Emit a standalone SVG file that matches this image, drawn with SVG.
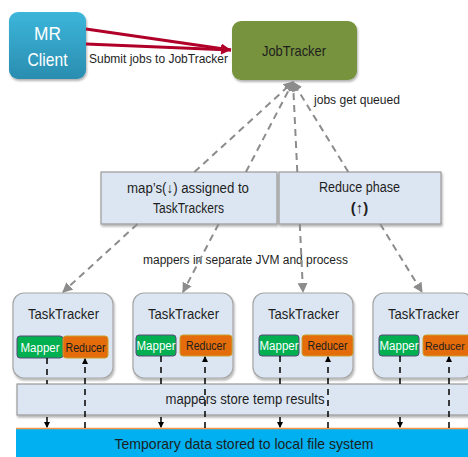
<svg xmlns="http://www.w3.org/2000/svg" width="468" height="457" viewBox="0 0 468 457">
<defs>
<linearGradient id="gClient" x1="0" y1="0" x2="0" y2="1"><stop offset="0" stop-color="#3cb6da"/><stop offset="1" stop-color="#2a8db0"/></linearGradient>
<filter id="sh" x="-10%" y="-10%" width="130%" height="140%"><feDropShadow dx="1" dy="2" stdDeviation="1.2" flood-color="#000" flood-opacity="0.3"/></filter>
<marker id="aGray" markerUnits="userSpaceOnUse" markerWidth="12" markerHeight="12" refX="9" refY="5" orient="auto-start-reverse"><path d="M0,0 L10,5 L0,10 z" fill="#8c8c8c"/></marker>
<marker id="aRed" markerUnits="userSpaceOnUse" markerWidth="12" markerHeight="12" refX="10" refY="5" orient="auto"><path d="M0,0 L10,5 L0,10 z" fill="#b0002a"/></marker>
<marker id="aBlk" markerUnits="userSpaceOnUse" markerWidth="8" markerHeight="8" refX="5" refY="3" orient="auto"><path d="M0,0 L6,3 L0,6 z" fill="#000"/></marker>
<style>
text{font-family:"Liberation Sans",Arial,sans-serif;fill:#1e1e1e}
.box{fill:#dce6f2;stroke:#9a9a9a;stroke-width:1.2}
.tt{fill:#dce6f2;stroke:#a6a6a6;stroke-width:1.2}
.map{fill:#00b050;stroke:#5a4a78;stroke-width:1}
.red{fill:#e46c0a;stroke:#c8a030;stroke-width:1}
.t15{font-size:15px}
.t14{font-size:14px}
.t13{font-size:13px}
.t12{font-size:12.5px}
.t11{font-size:12px}
.gd{stroke:#8c8c8c;stroke-width:2;stroke-dasharray:7 5;fill:none}
.bd{stroke:#000;stroke-width:1.5;stroke-dasharray:6 5;fill:none}
.rd{stroke:#b0002a;stroke-width:3;fill:none}
</style>
</defs>
<rect width="468" height="457" fill="#fff"/>

<g id="temp-data">
<rect x="16" y="428" width="460" height="40" fill="#00b0f0"/>
<line x1="16" y1="428.5" x2="468" y2="428.5" stroke="#f79646" stroke-width="1.5"/>
<text x="244" y="449" text-anchor="middle" class="t15" textLength="259" lengthAdjust="spacingAndGlyphs">Temporary data stored to local file system</text>
</g>

<g id="temp-results">
<rect x="17" y="384" width="460" height="31" class="box" filter="url(#sh)"/>
<text x="245" y="404" text-anchor="middle" class="t14" textLength="159" lengthAdjust="spacingAndGlyphs">mappers store temp results</text>
</g>

<g id="mr-client">
<rect x="9" y="12" width="77" height="67" rx="9" fill="url(#gClient)" filter="url(#sh)"/>
<text x="47.5" y="40" text-anchor="middle" font-size="19" style="fill:#fff" textLength="27" lengthAdjust="spacingAndGlyphs">MR</text>
<text x="47.5" y="66" text-anchor="middle" font-size="19" style="fill:#fff" textLength="40" lengthAdjust="spacingAndGlyphs">Client</text>
</g>

<g id="jobtracker">
<rect x="232" y="21" width="125" height="59" rx="9" fill="#77933c" filter="url(#sh)"/>
<text x="294" y="56" text-anchor="middle" class="t15" textLength="64" lengthAdjust="spacingAndGlyphs">JobTracker</text>
</g>

<g id="maps-assigned">
<rect x="101" y="172" width="176" height="52" class="box" filter="url(#sh)"/>
<text x="188" y="193" text-anchor="middle" class="t14" textLength="122" lengthAdjust="spacingAndGlyphs">map’s(↓) assigned to</text>
<text x="188.5" y="213" text-anchor="middle" class="t14" textLength="71" lengthAdjust="spacingAndGlyphs">TaskTrackers</text>
</g>

<g id="reduce-phase">
<rect x="279" y="172" width="162" height="52" class="box" filter="url(#sh)"/>
<text x="359.5" y="192" text-anchor="middle" class="t14" textLength="81" lengthAdjust="spacingAndGlyphs">Reduce phase</text>
<text x="359.5" y="213" text-anchor="middle" class="t15" font-weight="bold">(↑)</text>
</g>

<g id="tasktracker-1">
<rect x="13" y="293" width="100" height="85" rx="11" class="tt" filter="url(#sh)"/>
<text x="63.5" y="319" text-anchor="middle" class="t15" textLength="71" lengthAdjust="spacingAndGlyphs">TaskTracker</text>
<rect x="17" y="336" width="46" height="22" rx="3" class="map"/>
<text x="40" y="352" text-anchor="middle" class="t11" style="fill:#fff" textLength="39" lengthAdjust="spacingAndGlyphs">Mapper</text>
<rect x="63" y="336" width="45" height="22" rx="3" class="red"/>
<text x="85.5" y="352" text-anchor="middle" class="t11" textLength="40" lengthAdjust="spacingAndGlyphs">Reducer</text>
</g>

<g id="tasktracker-2">
<rect x="133" y="293" width="100" height="85" rx="11" class="tt" filter="url(#sh)"/>
<text x="183.5" y="319" text-anchor="middle" class="t15" textLength="71" lengthAdjust="spacingAndGlyphs">TaskTracker</text>
<rect x="136" y="335" width="40" height="21" rx="3" class="map"/>
<text x="156" y="350" text-anchor="middle" class="t11" style="fill:#fff" textLength="39" lengthAdjust="spacingAndGlyphs">Mapper</text>
<rect x="180" y="335" width="52" height="21" rx="3" class="red"/>
<text x="206" y="350" text-anchor="middle" class="t11" textLength="40" lengthAdjust="spacingAndGlyphs">Reducer</text>
</g>

<g id="tasktracker-3">
<rect x="253" y="293" width="100" height="85" rx="11" class="tt" filter="url(#sh)"/>
<text x="303.5" y="319" text-anchor="middle" class="t15" textLength="71" lengthAdjust="spacingAndGlyphs">TaskTracker</text>
<rect x="259" y="335" width="40" height="21" rx="3" class="map"/>
<text x="279" y="350" text-anchor="middle" class="t11" style="fill:#fff" textLength="39" lengthAdjust="spacingAndGlyphs">Mapper</text>
<rect x="302" y="335" width="51" height="21" rx="3" class="red"/>
<text x="327.5" y="350" text-anchor="middle" class="t11" textLength="40" lengthAdjust="spacingAndGlyphs">Reducer</text>
</g>

<g id="tasktracker-4">
<rect x="373" y="293" width="100" height="85" rx="11" class="tt" filter="url(#sh)"/>
<text x="423.5" y="319" text-anchor="middle" class="t15" textLength="71" lengthAdjust="spacingAndGlyphs">TaskTracker</text>
<rect x="379" y="335" width="40" height="21" rx="3" class="map"/>
<text x="399" y="350" text-anchor="middle" class="t11" style="fill:#fff" textLength="39" lengthAdjust="spacingAndGlyphs">Mapper</text>
<rect x="423" y="335" width="52" height="21" rx="3" class="red"/>
<text x="425" y="350" font-size="10.5px">Reducer</text>
</g>

<g id="labels">
<text x="89" y="63" class="t12" textLength="139" lengthAdjust="spacingAndGlyphs">Submit jobs to JobTracker</text>
<text x="314" y="104" class="t12" textLength="86" lengthAdjust="spacingAndGlyphs">jobs get queued</text>
<text x="143" y="264" class="t12" textLength="205" lengthAdjust="spacingAndGlyphs">mappers in separate JVM and process</text>
</g>

<g id="connectors">
<line x1="86" y1="29" x2="231" y2="50" class="rd" marker-end="url(#aRed)"/>
<line x1="86" y1="44" x2="231" y2="50" class="rd" marker-end="url(#aRed)"/>

<line x1="194.4" y1="172" x2="293" y2="82" class="gd" marker-end="url(#aGray)"/>
<line x1="137.5" y1="224" x2="63" y2="292" class="gd" marker-end="url(#aGray)"/>
<line x1="245.9" y1="172" x2="293" y2="82" class="gd" marker-end="url(#aGray)"/>
<line x1="218.6" y1="224" x2="183" y2="292" class="gd" marker-end="url(#aGray)"/>
<line x1="297.3" y1="172" x2="293" y2="82" class="gd" marker-end="url(#aGray)"/>
<line x1="299.8" y1="224" x2="303" y2="292" class="gd" marker-end="url(#aGray)"/>
<line x1="348.3" y1="172" x2="293" y2="82" class="gd" marker-end="url(#aGray)"/>
<line x1="380.2" y1="224" x2="422" y2="292" class="gd" marker-end="url(#aGray)"/>

<line x1="47" y1="358" x2="47" y2="384" class="bd"/>
<line x1="47" y1="417" x2="47" y2="427" stroke="#000" stroke-width="1.5" marker-end="url(#aBlk)"/>
<line x1="161" y1="356" x2="161" y2="384" class="bd"/>
<line x1="161" y1="417" x2="161" y2="427" stroke="#000" stroke-width="1.5" marker-end="url(#aBlk)"/>
<line x1="280" y1="356" x2="280" y2="384" class="bd"/>
<line x1="280" y1="417" x2="280" y2="427" stroke="#000" stroke-width="1.5" marker-end="url(#aBlk)"/>
<line x1="400" y1="356" x2="400" y2="384" class="bd"/>
<line x1="400" y1="417" x2="400" y2="427" stroke="#000" stroke-width="1.5" marker-end="url(#aBlk)"/>

<line x1="85" y1="428" x2="85" y2="359" class="bd" marker-end="url(#aBlk)"/>
<line x1="205" y1="428" x2="205" y2="357" class="bd" marker-end="url(#aBlk)"/>
<line x1="328" y1="428" x2="328" y2="357" class="bd" marker-end="url(#aBlk)"/>
<line x1="449" y1="428" x2="449" y2="357" class="bd" marker-end="url(#aBlk)"/>
</g>
</svg>
